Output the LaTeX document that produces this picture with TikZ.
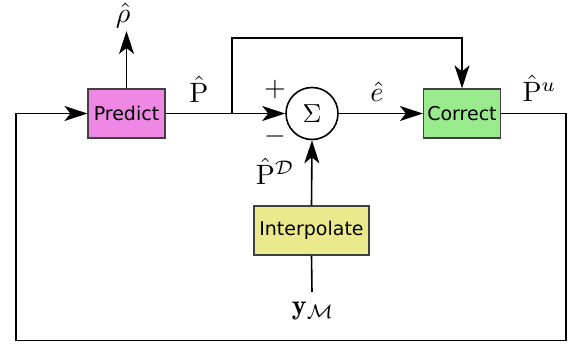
\documentclass[tikz,border=0pt]{standalone}
\usepackage{amsmath,amssymb}
\usepackage{graphicx}
\usepackage{fontspec}
\newfontfamily\boxfont{DejaVu Sans}
\usetikzlibrary{arrows.meta,calc}
\definecolor{predictc}{HTML}{EE88E4}
\definecolor{correctc}{HTML}{98EA8C}
\definecolor{interpc}{HTML}{EAEA8C}
\newcommand{\biglbl}[1]{\scalebox{2.8}{$#1$}}
\tikzset{
  blk/.style={draw=black!75,line width=1.2pt,minimum width=77pt,minimum height=49pt,inner sep=0pt,font=\boxfont\fontsize{19}{22}\selectfont},
  conn/.style={line width=1.6pt},
  arr/.style={conn,-{Stealth[length=23pt,width=15pt,inset=6pt]}},
  lbl/.style={inner sep=0pt}
}
\begin{document}
\begin{tikzpicture}[x=1pt,y=-1pt]
\useasboundingbox (0,0) rectangle (572,343);
\node[blk,fill=predictc] (pred) at (126.5,113.5) {Predict};
\node[blk,fill=correctc] (corr) at (462,113.5) {Correct};
\node[blk,fill=interpc,minimum width=115pt] (interp) at (311.5,230.5) {Interpolate};
\node[draw,circle,line width=1.6pt,minimum size=52pt,inner sep=0pt] (sum) at (312,113.5) {\scalebox{2.6}{$\Sigma$}};
\coordinate (rhotip) at (126.5,31);
\coordinate (br) at (232,113.5);
\coordinate (ytop) at (312,292);
% connectors
\draw[arr] (pred.north) -- (rhotip);
\draw[arr] (pred.east) -- (sum.west);
\draw[arr] (br) -- (232,38) -| (corr.north);
\draw[arr] (sum.east) -- (corr.west);
\draw[arr] (interp.north) -- (sum.south);
\draw[conn] (ytop) -- (interp.south);
\draw[arr] (corr.east) -- (566,113.5) -- (566,340.5) -- (16,340.5) -- (16,113.5) -- (pred.west);
% labels
\node[lbl] (rho) at (123,15) {\biglbl{\hat{\rho}}};
\node[lbl] (plbl) at (199,89) {\biglbl{\hat{\mathrm{P}}}};
\node[lbl] (elbl) at (377,92) {\biglbl{\hat{e}}};
\node[lbl] (pulbl) at (539.5,88.5) {\biglbl{\hat{\mathrm{P}}^{u}}};
\node[lbl] (plus) at (275,89.5) {\biglbl{+}};
\node[lbl] (minus) at (275,136) {\biglbl{-}};
\node[lbl] (pdlbl) at (275,171) {\biglbl{\hat{\mathrm{P}}^{\mathcal{D}}}};
\node[lbl] (ylbl) at (313,311) {\biglbl{\mathbf{y}_{\mathcal{M}}}};
\end{tikzpicture}
\end{document}
